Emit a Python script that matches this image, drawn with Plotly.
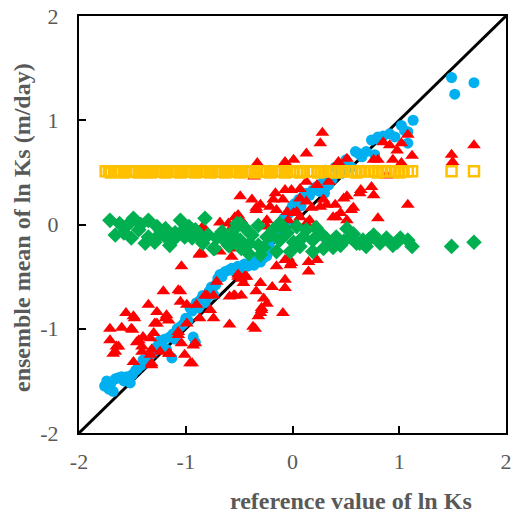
import plotly.graph_objects as go

# ---------------- data ----------------
blue_x = [-1.76, -1.74, -1.72, -1.70, -1.68, -1.66, -1.63, -1.60, -1.58, -1.55, -1.52, -1.50,
          -1.47, -1.45, -1.42, -1.40, -1.38, -1.35, -1.33, -1.30, -1.28, -1.25, -1.23, -1.20,
          -1.18, -1.15, -1.13, -1.12, -1.10, -1.08, -1.05, -1.02, -1.00, -0.98, -0.96, -0.94,
          -0.93, -0.91, -0.90, -0.88, -0.86, -0.84, -0.82, -0.80, -0.78, -0.76, -0.74, -0.72,
          -0.70, -0.68, -0.66, -0.63, -0.60, -0.57, -0.54, -0.51, -0.48, -0.45, -0.42, -0.39,
          -0.36, -0.33, -0.30, -0.27, -0.24, -0.22, -0.20, -0.18, -0.16, -0.14, -0.12, -0.10,
          -0.08, -0.06, -0.04, -0.02, 0.00, 0.02, 0.04, 0.06, 0.08, 0.10, 0.13, 0.16,
          0.19, 0.22, 0.25, 0.28, 0.30, 0.31, 0.34, 0.37, 0.40, 0.43, 0.46, 0.50,
          0.55, 0.59, 0.62, 0.65, 0.69, 0.74, 0.77, 0.80, 0.80, 0.85, 0.91, 0.96,
          1.02, 1.05, 1.08, 1.08, 1.13, 1.49, 1.52, 1.70]
blue_y = [-1.55, -1.50, -1.58, -1.52, -1.60, -1.48, -1.47, -1.46, -1.50, -1.46, -1.52, -1.44,
          -1.40, -1.38, -1.35, -1.30, -1.33, -1.28, -1.25, -1.22, -1.18, -1.12, -1.15, -1.10,
          -1.20, -1.08, -1.28, -1.05, -1.10, -1.00, -0.98, -0.95, -0.90, -0.92, -0.80, -0.83,
          -1.08, -1.13, -0.75, -0.80, -0.72, -0.68, -0.75, -0.70, -0.64, -0.60, -0.67, -0.58,
          -0.52, -0.48, -0.50, -0.45, -0.44, -0.42, -0.45, -0.40, -0.42, -0.38, -0.40, -0.37,
          -0.39, -0.34, -0.36, -0.32, -0.30, -0.20, -0.14, -0.10, -0.05, -0.08, 0.00, 0.03,
          0.06, 0.02, 0.10, 0.14, 0.18, 0.20, 0.21, 0.24, 0.18, 0.27, 0.30, 0.28,
          0.33, 0.36, 0.32, 0.40, 0.30, 0.44, 0.38, 0.43, 0.55, 0.50, 0.49, 0.62,
          0.55, 0.70, 0.68, 0.65, 0.70, 0.81, 0.67, 0.84, 0.82, 0.85, 0.87, 0.84,
          0.95, 0.90, 0.89, 0.78, 1.00, 1.41, 1.25, 1.36]

red_x = [-1.71, -1.60, -1.71, -1.63, -1.66, -1.56, -1.49, -1.50, -1.46, -1.40, -1.41, -1.49,
         -1.35, -1.27, -1.29, -1.30, -1.33, -1.32, -1.21, -1.18, -1.16, -1.24, -1.15, -1.05,
         -1.04, -1.05, -0.99, -1.07, -1.04, -1.01, -0.94, -0.93, -0.90, -0.87, -0.82, -0.77,
         -0.74, -0.74, -0.71, -0.59, -0.51, -0.55, -0.48, -0.43, -0.37, -0.32, -0.87, -1.07,
         -1.48, -1.19, -1.27, -0.99, -1.07, -0.91, -0.96, -1.16, -1.32, -1.41, -1.65, -1.68,
         -1.51, -1.44, -1.33, -1.32, -0.68, -0.84, -0.87, -0.68, -0.54, -0.56, -0.52, -0.57,
         -0.34, -0.59, -0.48, 0.28, 0.26, 0.13, -0.33, -0.07, 0.01, 0.43, 0.51, 0.76,
         0.80, 0.94, 1.02, 1.12, 0.85, 0.91, 1.08, 1.02, 0.98, 0.88, 0.64, 0.74,
         0.76, 1.08, 0.80, -0.36, -0.49, -0.38, -0.30, -0.34, -0.16, -0.07, -0.01, 0.07,
         0.13, 0.23, 0.34, -0.18, -0.09, -0.21, -0.05, 0.04, 0.13, 0.18, 0.26, 0.32,
         0.40, 0.48, 0.51, 0.45, 0.57, -0.24, -0.04, 0.07, 0.16, 0.23, 0.41, 0.51,
         -0.49, -0.60, -0.51, -0.48, -0.15, 0.01, 0.07, 0.29, 0.55, 0.63, 0.38, 0.13,
         -0.24, -0.84, -0.85, -0.07, -0.01, 0.15, 0.23, 0.15, -0.15, -0.07, -0.07, -0.19,
         -0.30, -0.34, -0.27, -0.29, -0.30, -0.09, -0.45, -0.51, -0.46, -0.54, -0.24, -0.29,
         -0.35, -0.04, -0.02, -0.80, -0.59, 1.49, 1.50, 1.70]
red_y = [-1.00, -0.99, -1.11, -1.17, -1.22, -0.85, -0.88, -1.01, -1.13, -1.08, -1.22, -1.32,
         -0.77, -0.84, -0.95, -1.04, -1.25, -1.33, -0.64, -0.87, -0.92, -1.22, -1.24, -0.64,
         -0.40, -0.74, -0.77, -1.03, -1.14, -1.25, -1.33, -1.16, -0.77, -0.90, -0.68, -0.82,
         -0.90, -0.68, -0.55, -0.96, -0.48, -0.68, -0.68, -0.50, -0.98, -0.88, -0.29, -0.63,
         -0.90, -0.90, -0.95, -0.95, -1.06, -1.14, -1.33, -1.24, -1.35, -1.17, -1.17, -1.24,
         -1.00, -1.11, -1.09, -1.20, 0.02, -0.02, -0.28, -0.26, 0.07, -0.02, -0.23, -0.31,
         0.16, -0.13, -0.52, 0.88, 0.78, 0.68, 0.59, 0.60, 0.62, 0.60, 0.63, 0.62,
         0.62, 0.62, 0.59, 0.66, 0.79, 0.76, 0.86, 0.78, 0.71, 0.47, 0.33, 0.36,
         0.28, 0.19, 0.06, 0.46, 0.27, 0.24, 0.19, 0.14, 0.30, 0.33, 0.33, 0.34,
         0.41, 0.38, 0.41, 0.24, 0.24, 0.17, 0.12, 0.12, 0.22, 0.16, 0.17, 0.19,
         0.19, 0.25, 0.27, 0.11, 0.16, 0.04, 0.04, 0.07, 0.04, -0.02, 0.07, 0.04,
         -0.02, 0.01, 0.09, 0.04, 0.14, 0.11, 0.25, 0.24, 0.14, 0.30, 0.07, 0.01,
         -0.02, -0.05, -0.28, -0.34, -0.37, -0.36, -0.34, -0.45, -0.40, -0.53, -0.61, -0.60,
         -0.56, -0.64, -0.71, -0.80, -0.85, -0.85, -0.50, -0.50, -0.56, -0.68, -0.76, -0.82,
         -1.00, -0.32, -0.39, -0.68, -0.69, 0.67, 0.60, 0.76]

green_x = [-1.71, -1.62, -1.66, -1.55, -1.49, -1.51, -1.44, -1.38, -1.35, -1.35, -1.27, -1.29,
           -1.23, -1.19, -1.15, -1.18, -1.05, -1.10, -1.01, -1.01, -0.94, -0.91, -0.82, -0.85,
           -0.79, -0.74, -0.71, -0.66, -0.59, -0.54, -0.51, -0.48, -0.41, -0.38, -0.32, -0.32,
           -0.84, -0.73, -0.60, -0.57, -0.49, -0.49, -0.40, -0.40, -0.30, -0.24, -0.18, -0.12,
           -0.05, 0.01, 0.07, 0.13, 0.19, 0.26, 0.29, 0.35, 0.41, 0.45, 0.51, 0.54,
           0.60, 0.66, -0.12, 0.04, -0.15, -0.02, 0.19, 0.76, 0.82, 0.88, 0.94, 1.01,
           1.08, 1.12, 0.69, 0.63, -0.52, -1.58, -1.42, -1.25, -1.12, -0.97, -0.88, -0.63,
           -0.44, -0.27, -0.20, -0.09, 0.10, 0.22, 0.32, 0.38, 0.48, 0.57, 0.72, 0.98,
           1.49, 1.70]
green_y = [0.04, 0.01, -0.10, -0.01, 0.06, -0.13, -0.05, -0.18, 0.04, -0.12, -0.02, -0.17,
           -0.07, -0.04, -0.20, -0.13, 0.04, -0.08, -0.04, -0.12, -0.13, -0.05, 0.06, -0.15,
           -0.10, -0.23, -0.13, -0.07, -0.20, -0.13, -0.01, -0.23, -0.28, -0.10, -0.01, -0.20,
           -0.18, -0.23, -0.20, -0.08, 0.01, -0.15, -0.08, -0.18, -0.29, -0.12, -0.05, -0.15,
           -0.08, -0.17, -0.21, -0.05, -0.15, -0.08, -0.23, -0.17, -0.12, -0.20, -0.04, -0.12,
           -0.18, -0.15, 0.01, -0.02, -0.26, -0.26, -0.26, -0.10, -0.18, -0.13, -0.20, -0.13,
           -0.15, -0.21, -0.21, -0.18, 0.01, -0.08, 0.00, -0.10, -0.15, -0.02, -0.09, -0.16,
           -0.04, -0.22, -0.10, -0.02, -0.12, -0.03, -0.14, -0.22, -0.16, -0.09, -0.14, -0.17,
           -0.21, -0.17]

yellow_x = [-1.75, -1.72, -1.70, -1.67, -1.64, -1.61, -1.58, -1.56, -1.53, -1.50, -1.47, -1.44,
            -1.42, -1.39, -1.36, -1.33, -1.31, -1.28, -1.25, -1.22, -1.19, -1.17, -1.14, -1.11,
            -1.08, -1.05, -1.03, -1.00, -0.97, -0.94, -0.91, -0.89, -0.86, -0.83, -0.80, -0.77,
            -0.75, -0.72, -0.69, -0.66, -0.63, -0.61, -0.58, -0.55, -0.52, -0.49, -0.47, -0.44,
            -0.41, -0.38, -0.35, -0.33, -0.30, -0.27, -0.24, -0.21, -0.19, -0.16, -0.13, -0.10,
            -0.07, -0.05, -0.02, 0.01, 0.04, 0.07, 0.10, 0.14, 0.17, 0.20, 0.24, 0.27,
            0.31, 0.34, 0.38, 0.41, 0.45, 0.48, 0.52, 0.56, 0.60, 0.64, 0.68, 0.72,
            0.76, 0.80, 0.84, 0.88, 0.92, 0.96, 1.00, 1.04, 1.08, 1.12, 1.49, 1.70]
yellow_y = [0.51, 0.51, 0.50, 0.51, 0.51, 0.51, 0.50, 0.51, 0.51, 0.51, 0.51, 0.50,
            0.51, 0.51, 0.51, 0.50, 0.51, 0.51, 0.51, 0.51, 0.50, 0.51, 0.51, 0.51,
            0.51, 0.50, 0.51, 0.51, 0.51, 0.51, 0.50, 0.51, 0.51, 0.51, 0.51, 0.50,
            0.51, 0.51, 0.51, 0.51, 0.50, 0.51, 0.51, 0.51, 0.51, 0.50, 0.51, 0.51,
            0.51, 0.51, 0.50, 0.51, 0.51, 0.51, 0.51, 0.50, 0.51, 0.51, 0.51, 0.51,
            0.50, 0.51, 0.51, 0.51, 0.51, 0.50, 0.51, 0.51, 0.51, 0.51, 0.50, 0.51,
            0.51, 0.51, 0.51, 0.50, 0.51, 0.51, 0.51, 0.51, 0.50, 0.51, 0.51, 0.51,
            0.51, 0.50, 0.51, 0.51, 0.51, 0.51, 0.50, 0.51, 0.51, 0.51, 0.51, 0.51]

one_to_one = [-2, 2]
tick_vals = [-2, -1, 0, 1, 2]
tick_text = ["-2", "-1", "0", "1", "2"]
x_title = "reference value of ln Ks"
y_title = "ensemble mean of ln Ks (m/day)"

# ---------------- figure ----------------
FONT = "Liberation Serif, Times New Roman, serif"
GRAY = "#595959"

# target plot box in the 515x515 window: x 79..506, y 16..433
PL, PR, PT, PB = 79, 506, 16, 433
W = H = 515
PW, PH = PR - PL, PB - PT

fig = go.Figure()
fig.add_trace(go.Scatter(x=one_to_one, y=one_to_one, mode="lines",
                         line=dict(color="black", width=3), hoverinfo="skip"))
fig.add_trace(go.Scatter(x=blue_x, y=blue_y, mode="markers",
                         marker=dict(symbol="circle", size=11, color="#00B0F0", line=dict(width=0))))
fig.add_trace(go.Scatter(x=red_x, y=red_y, mode="markers",
                         marker=dict(symbol="triangle-up", size=12, color="#FF0000", line=dict(width=0))))
fig.add_trace(go.Scatter(x=green_x, y=green_y, mode="markers",
                         marker=dict(symbol="diamond", size=12, color="#00B050", line=dict(width=0))))
fig.add_trace(go.Scatter(x=yellow_x, y=yellow_y, mode="markers",
                         marker=dict(symbol="square-open", size=10, color="#FFC000",
                                     line=dict(width=2.5, color="#FFC000"))))

axis_common = dict(range=[-2, 2], tickvals=tick_vals, ticktext=tick_text,
                   showgrid=False, zeroline=False, showline=True, mirror=True,
                   linecolor="black", linewidth=2, ticks="inside", ticklen=7,
                   tickwidth=2, tickcolor="black", automargin=False,
                   ticklabeloverflow="allow",
                   tickfont=dict(family=FONT, size=22, color=GRAY))

fig.update_layout(
    width=W, height=H,
    margin=dict(l=PL, r=W - PR, t=PT, b=H - PB, autoexpand=False),
    paper_bgcolor="white", plot_bgcolor="white",
    showlegend=False,
    xaxis=dict(**axis_common, ticklabelstandoff=8),
    yaxis=dict(**axis_common, ticklabelstandoff=14),
    annotations=[
        dict(text="<b>" + x_title + "</b>", xref="paper", yref="paper",
             x=(351 - PL) / PW, y=-(501 - PB) / PH, xanchor="center", yanchor="middle",
             showarrow=False, font=dict(family=FONT, size=24, color=GRAY)),
        dict(text="<b>" + y_title + "</b>", xref="paper", yref="paper",
             x=-(PL - 22) / PW, y=(PB - 228) / PH, xanchor="center", yanchor="middle",
             textangle=-90, showarrow=False, font=dict(family=FONT, size=24, color=GRAY)),
    ],
)

# remove the browser's default page margin so the figure sits at the window origin
fig.write_html("out.html",
               config={"displayModeBar": False},
               post_script="document.body.style.margin='0px';document.body.style.overflow='hidden';")
